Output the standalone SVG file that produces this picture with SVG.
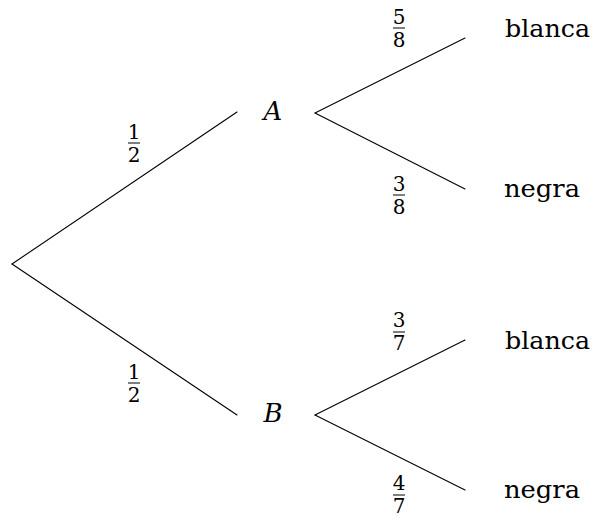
<svg xmlns="http://www.w3.org/2000/svg" width="593" height="518" viewBox="0 0 593 518">
<style>
.e{stroke:#000;stroke-width:1.1;fill:none;stroke-linecap:round}
.t{font-size:25px;fill:#000}
.v{font-size:26px;font-style:italic;fill:#000;text-anchor:middle}
.f{font-size:20px;fill:#000;text-anchor:middle}
.b{stroke:#000;stroke-width:1}
</style>
<rect width="593" height="518" fill="#fff"/>
<g id="connectors">
<line class="e" x1="12" y1="264" x2="237" y2="112"/>
<line class="e" x1="12" y1="264" x2="237" y2="415"/>
<line class="e" x1="315" y1="113" x2="465" y2="38"/>
<line class="e" x1="315" y1="113" x2="465" y2="189"/>
<line class="e" x1="315" y1="415" x2="465" y2="340"/>
<line class="e" x1="315" y1="415" x2="465" y2="490"/>
</g>
<g font-family="'DejaVu Serif', serif">
<g id="p1"><text class="f" x="134" y="139">1</text><line class="b" x1="128" y1="143" x2="140" y2="143"/><text class="f" x="134" y="162">2</text></g>
<g id="p2"><text class="f" x="134" y="379">1</text><line class="b" x1="128" y1="383" x2="140" y2="383"/><text class="f" x="134" y="402">2</text></g>
<g id="p3"><text class="f" x="399" y="24">5</text><line class="b" x1="393" y1="28" x2="405" y2="28"/><text class="f" x="399" y="47">8</text></g>
<g id="p4"><text class="f" x="399" y="191">3</text><line class="b" x1="393" y1="195" x2="405" y2="195"/><text class="f" x="399" y="214">8</text></g>
<g id="p5"><text class="f" x="399" y="327">3</text><line class="b" x1="393" y1="332" x2="405" y2="332"/><text class="f" x="399" y="350">7</text></g>
<g id="p6"><text class="f" x="399" y="490">4</text><line class="b" x1="393" y1="495" x2="405" y2="495"/><text class="f" x="399" y="513">7</text></g>
<g id="A"><text class="v" x="273" y="120">A</text></g>
<g id="B"><text class="v" x="273" y="422">B</text></g>
<g id="A-blanca"><text class="t" x="505" y="37" textLength="85" lengthAdjust="spacingAndGlyphs">blanca</text></g>
<g id="A-negra"><text class="t" x="504" y="197" textLength="76" lengthAdjust="spacingAndGlyphs">negra</text></g>
<g id="B-blanca"><text class="t" x="505" y="349" textLength="85" lengthAdjust="spacingAndGlyphs">blanca</text></g>
<g id="B-negra"><text class="t" x="504" y="498" textLength="76" lengthAdjust="spacingAndGlyphs">negra</text></g>
</g>
</svg>
